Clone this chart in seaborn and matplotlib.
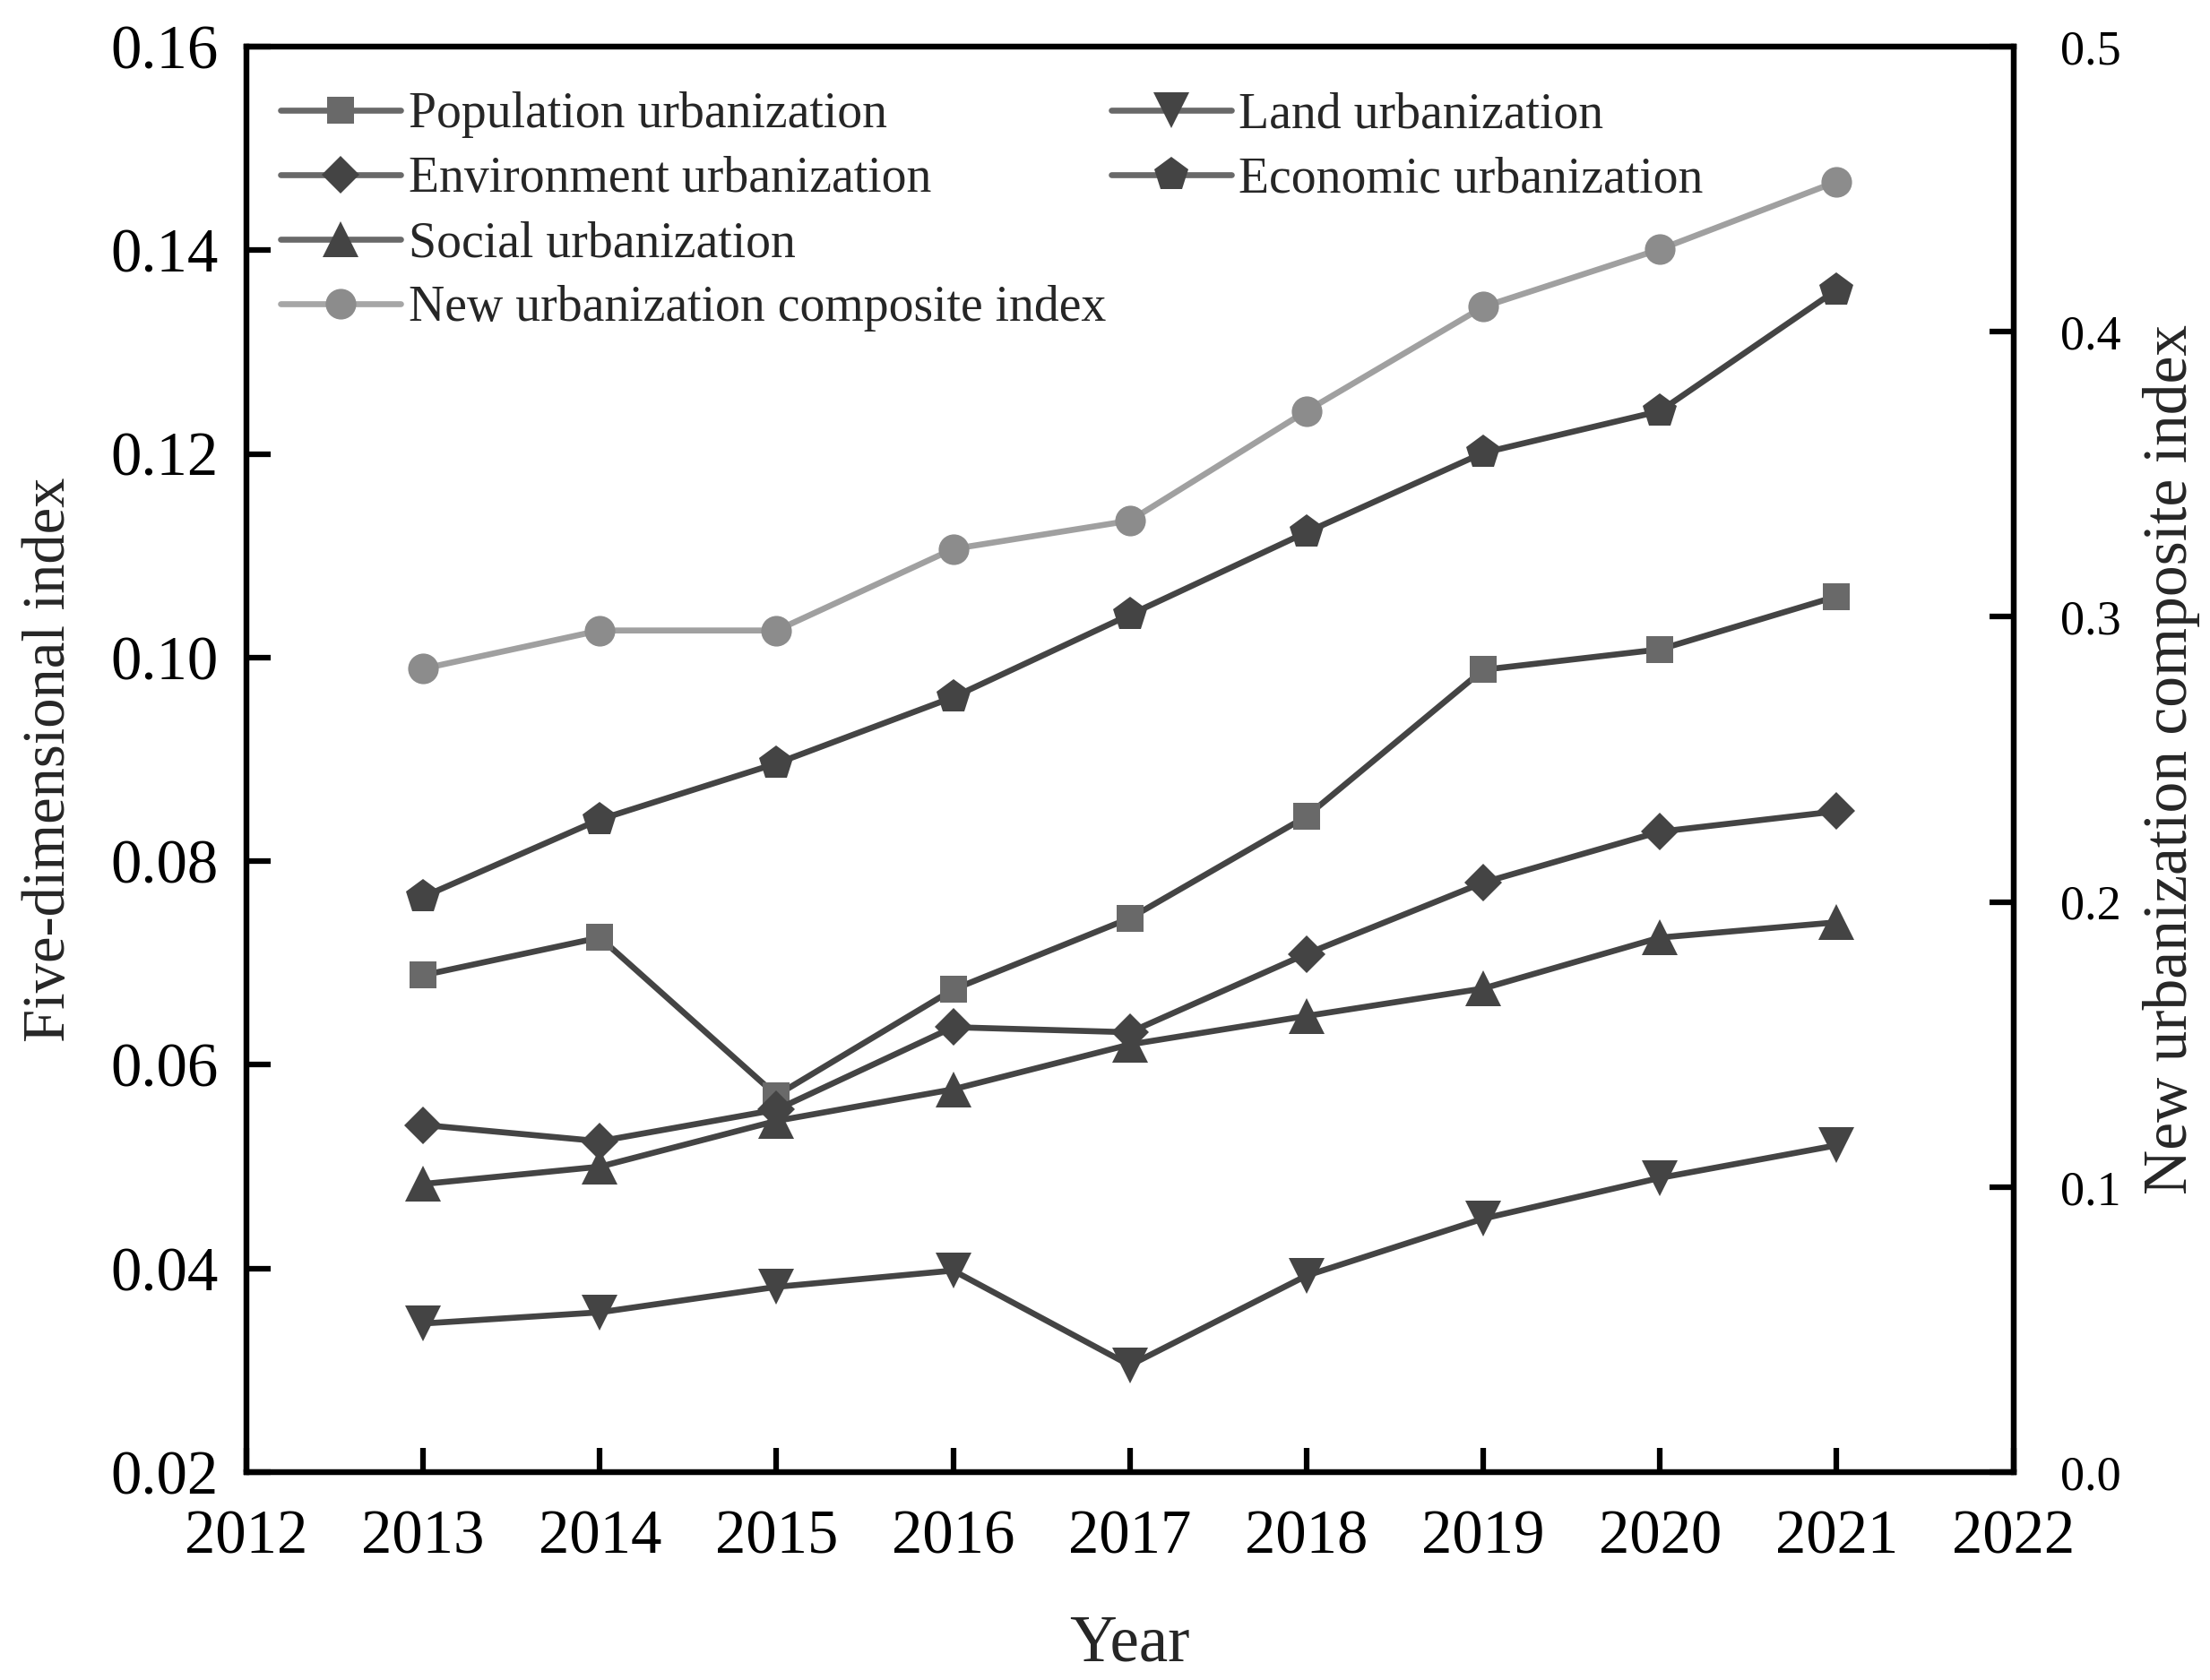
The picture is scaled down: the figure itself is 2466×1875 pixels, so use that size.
import matplotlib
matplotlib.use("Agg")
import matplotlib.pyplot as plt
from matplotlib.lines import Line2D
from matplotlib.ticker import FormatStrFormatter
import seaborn as sns

years = [2013, 2014, 2015, 2016, 2017, 2018, 2019, 2020, 2021]
population = [0.0688, 0.0725, 0.0570, 0.0674, 0.0744, 0.0844, 0.0988, 0.1008, 0.1060]
land = [0.0346, 0.0357, 0.0382, 0.0398, 0.0305, 0.0393, 0.0449, 0.0489, 0.0521]
environment = [0.0541, 0.0525, 0.0556, 0.0637, 0.0632, 0.0709, 0.0779, 0.0829, 0.0849]
economic = [0.0765, 0.0841, 0.0896, 0.0961, 0.1042, 0.1123, 0.1201, 0.1242, 0.1361]
social = [0.0483, 0.0500, 0.0545, 0.0576, 0.0620, 0.0648, 0.0675, 0.0725, 0.0740]
composite = [0.2818, 0.2952, 0.2952, 0.3238, 0.3337, 0.3722, 0.4087, 0.4289, 0.4526]

sns.set_theme(style="ticks")
plt.rcParams["font.family"] = ["Liberation Serif", "DejaVu Serif"]
plt.rcParams["axes.linewidth"] = 1.5

fig = plt.figure(figsize=(8.22, 6.25), dpi=300)
ax = fig.add_axes([0.1115, 0.1237, 0.7995, 0.8486])
ax2 = ax.twinx()

dark = "#444444"
mid = "#696969"
light = "#a0a0a0"

# (values, label, marker, marker size, marker colour)
series = [
    (population, "Population urbanization", "s", 7.2, mid),
    (land, "Land urbanization", "v", 9.5, dark),
    (environment, "Environment urbanization", "D", 7.2, dark),
    (economic, "Economic urbanization", "p", 9.5, dark),
    (social, "Social urbanization", "^", 9.5, dark),
]

handles = {}
for vals, label, mk, ms, mc in series:
    sns.lineplot(x=years, y=vals, ax=ax, color=dark, lw=1.6, marker=mk,
                 markersize=ms, markerfacecolor=mc, markeredgecolor=mc,
                 markeredgewidth=0)
    handles[label] = Line2D([], [], color=mid, lw=1.6, marker=mk, markersize=ms,
                            markerfacecolor=mc, markeredgecolor=mc,
                            markeredgewidth=0, solid_capstyle="round")

sns.lineplot(x=years, y=composite, ax=ax2, color=light, lw=1.6, marker="o",
             markersize=8.2, markerfacecolor="#8c8c8c", markeredgecolor="#8c8c8c",
             markeredgewidth=0)
handles["New urbanization composite index"] = Line2D(
    [], [], color="#a6a6a6", lw=1.6, marker="o", markersize=8.2,
    markerfacecolor="#8c8c8c", markeredgecolor="#8c8c8c", markeredgewidth=0,
    solid_capstyle="round")

ax.set_xlim(2012, 2022)
ax.set_xticks(range(2012, 2023))
ax.set_ylim(0.02, 0.16)
ax.set_yticks([0.02, 0.04, 0.06, 0.08, 0.10, 0.12, 0.14, 0.16])
ax.yaxis.set_major_formatter(FormatStrFormatter("%.2f"))
ax2.set_ylim(0.0, 0.5)
ax2.set_yticks([0.0, 0.1, 0.2, 0.3, 0.4, 0.5])
ax2.yaxis.set_major_formatter(FormatStrFormatter("%.1f"))

ax.tick_params(axis="both", direction="in", length=6.5, width=1.5,
               labelsize=16.5, pad=7.5, colors="black")
ax.tick_params(axis="x", pad=10)
ax.tick_params(right=False)
ax2.tick_params(axis="y", direction="in", length=6.5, width=1.5,
                labelsize=13, pad=12.5, colors="black")
for a in (ax, ax2):
    for sp in a.spines.values():
        sp.set_visible(True)
        sp.set_linewidth(1.5)
        sp.set_color("black")

ax.set_xlabel("Year", fontsize=17.5, labelpad=13)
ax.set_ylabel("Five-dimensional index", fontsize=16, labelpad=9)
ax2.set_ylabel("New urbanization composite index", fontsize=16.7, labelpad=6)

blank = Line2D([], [], linestyle="none")
order = ["Population urbanization", "Environment urbanization",
         "Social urbanization", "New urbanization composite index",
         "Land urbanization", "Economic urbanization"]
leg_handles = [handles[k] for k in order] + [blank, blank]
leg_labels = order + ["", ""]
ax2.legend(leg_handles, leg_labels, ncol=2, loc="upper left",
           bbox_to_anchor=(-0.006, 1.0), frameon=False, fontsize=13.4,
           handlelength=2.4, handletextpad=0.15, labelspacing=0.36,
           columnspacing=0.1, borderaxespad=0.5)

fig.savefig("out.png", dpi=300)
